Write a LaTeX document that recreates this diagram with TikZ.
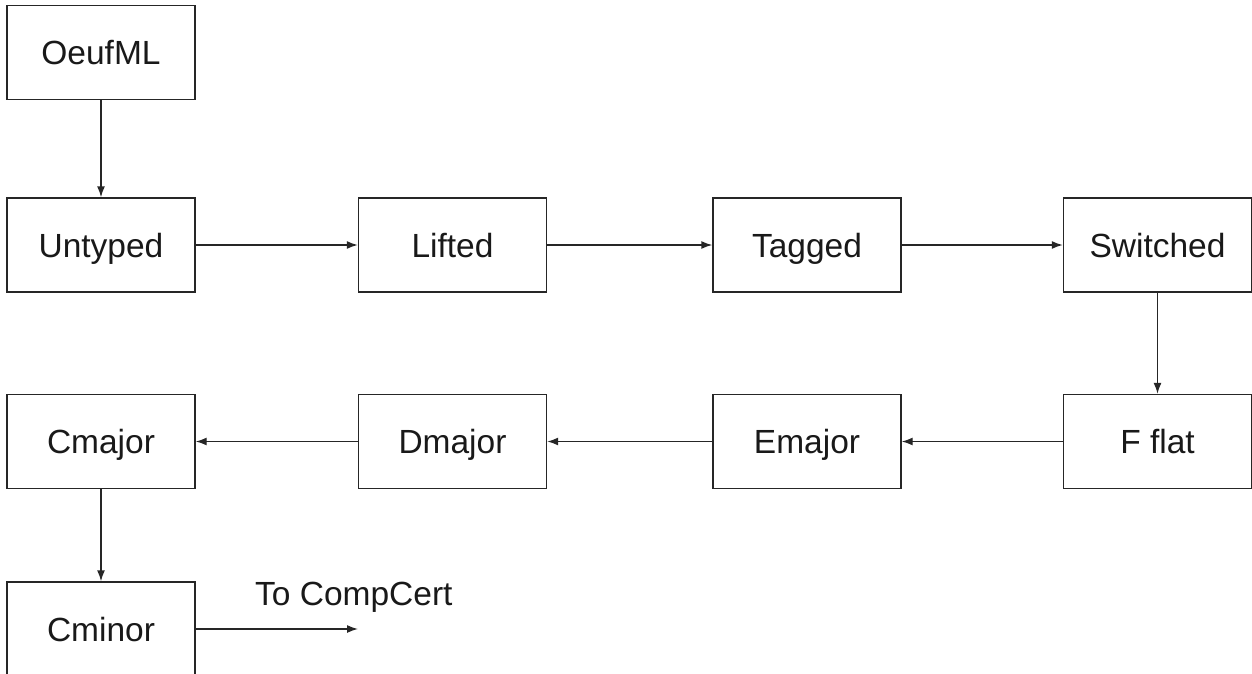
\documentclass[tikz,border=0pt]{standalone}
\usepackage{fontspec}
\setmainfont{Liberation Sans}
\usetikzlibrary{arrows.meta}
\begin{document}
\begin{tikzpicture}[x=1pt,y=-1pt,
  stage/.style={draw=black!85, line width=1.4pt, minimum width=188pt, minimum height=94pt, inner sep=0pt, text height=24pt, text depth=0pt, font=\fontsize{33.5}{40}\selectfont, text=black!90},
  conn/.style={draw=black!85, line width=1.4pt, -{Latex[length=11pt,width=8pt]}},
  lbl/.style={font=\fontsize{33.5}{40}\selectfont, text=black!90, inner sep=0pt}]
\useasboundingbox (0,0) rectangle (1252,674);
\node[stage] (oeuf) at (101,52.5) {OeufML};
\node[stage] (untyped) at (101,245) {Untyped};
\node[stage] (lifted) at (452.5,245) {Lifted};
\node[stage] (tagged) at (807,245) {Tagged};
\node[stage] (switched) at (1157.5,245) {Switched};
\node[stage] (fflat) at (1157.5,441.5) {F flat};
\node[stage] (emajor) at (807,441.5) {Emajor};
\node[stage] (dmajor) at (452.5,441.5) {Dmajor};
\node[stage] (cmajor) at (101,441.5) {Cmajor};
\node[stage] (cminor) at (101,629) {Cminor};
\coordinate (cc) at (358,629);
\node[lbl, anchor=base west] (tocc) at (255,605) {To CompCert};
\draw[conn] (oeuf) -- (untyped);
\draw[conn] (untyped) -- (lifted);
\draw[conn] (lifted) -- (tagged);
\draw[conn] (tagged) -- (switched);
\draw[conn] (switched) -- (fflat);
\draw[conn] (fflat) -- (emajor);
\draw[conn] (emajor) -- (dmajor);
\draw[conn] (dmajor) -- (cmajor);
\draw[conn] (cmajor) -- (cminor);
\draw[conn] (cminor) -- (cc);
\end{tikzpicture}
\end{document}
